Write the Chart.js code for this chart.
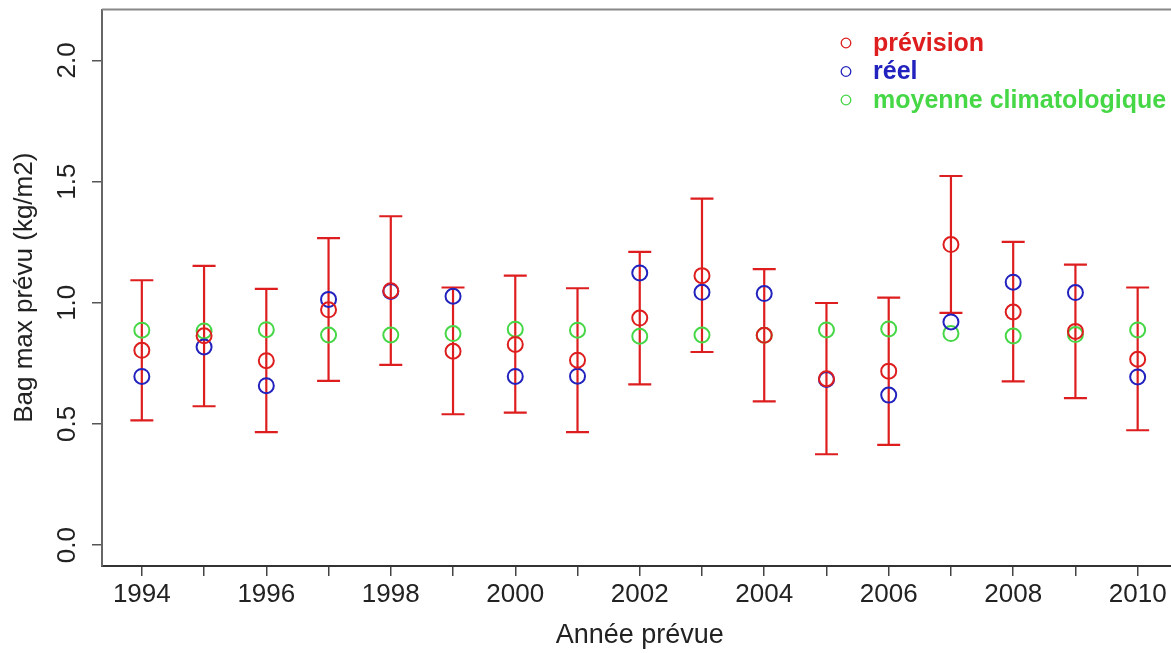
<!DOCTYPE html>
<html>
<head>
<meta charset="utf-8">
<script src="https://cdn.jsdelivr.net/npm/chart.js@4/dist/chart.umd.min.js"></script>
<style>
  body { margin: 0; background: #fff; }
  #wrap { width: 1171px; height: 653px; overflow: hidden; }
</style>
</head>
<body>
<div id="wrap"><canvas id="chart" width="1190" height="653"></canvas></div>
<script>
// data
const years = [1994, 1995, 1996, 1997, 1998, 1999, 2000, 2001, 2002, 2003, 2004, 2005, 2006, 2007, 2008, 2009, 2010];
const prevision = [0.804, 0.864, 0.761, 0.971, 1.050, 0.800, 0.828, 0.763, 0.937, 1.112, 0.866, 0.687, 0.718, 1.240, 0.962, 0.882, 0.767];
const reel = [0.696, 0.818, 0.658, 1.014, 1.047, 1.027, 0.696, 0.697, 1.123, 1.043, 1.038, 0.683, 0.619, 0.921, 1.085, 1.042, 0.694];
const moyenne = [0.887, 0.884, 0.889, 0.867, 0.867, 0.873, 0.891, 0.887, 0.862, 0.867, 0.866, 0.888, 0.892, 0.873, 0.863, 0.869, 0.888];
const lower = [0.515, 0.573, 0.466, 0.678, 0.744, 0.540, 0.547, 0.466, 0.663, 0.797, 0.593, 0.375, 0.414, 0.958, 0.676, 0.607, 0.474];
const upper = [1.093, 1.152, 1.057, 1.267, 1.357, 1.063, 1.112, 1.060, 1.210, 1.430, 1.139, 0.999, 1.021, 1.523, 1.251, 1.157, 1.063];
const yTicks = [0, 0.5, 1.0, 1.5, 2.0];
const xLabels = ['1994', '1996', '1998', '2000', '2002', '2004', '2006', '2008', '2010'];

const RED = 'rgb(222,30,30)';
const BLUE = 'rgb(34,34,190)';
const GREEN = 'rgb(70,215,70)';
const FONT = "'Liberation Sans', Arial, sans-serif";

function pts(vals) {
    return years.map((y, i) => ({ x: y, y: vals[i] }));
}

const errorBars = {
    id: 'errorBars',
    beforeDatasetsDraw(chart) {
        const ctx = chart.ctx;
        const xs = chart.scales.x, ys = chart.scales.y;
        ctx.save();
        ctx.strokeStyle = RED;
        ctx.lineWidth = 2.2;
        years.forEach((yr, i) => {
            const x = xs.getPixelForValue(yr);
            const y0 = ys.getPixelForValue(lower[i]);
            const y1 = ys.getPixelForValue(upper[i]);
            ctx.beginPath();
            ctx.moveTo(x, y0); ctx.lineTo(x, y1);
            ctx.moveTo(x - 11.5, y0); ctx.lineTo(x + 11.5, y0);
            ctx.moveTo(x - 11.5, y1); ctx.lineTo(x + 11.5, y1);
            ctx.stroke();
        });
        ctx.restore();
    }
};

const frame = {
    id: 'frame',
    afterDraw(chart) {
        const ctx = chart.ctx;
        const a = chart.chartArea;
        const ys = chart.scales.y;
        ctx.save();
        // top border of the box
        ctx.strokeStyle = '#888';
        ctx.lineWidth = 2;
        ctx.beginPath();
        ctx.moveTo(a.left, a.top); ctx.lineTo(a.right, a.top);
        ctx.stroke();
        // rotated y tick labels
        ctx.fillStyle = '#222';
        ctx.font = '26px ' + FONT;
        ctx.textAlign = 'center';
        ctx.textBaseline = 'middle';
        yTicks.forEach(v => {
            const y = ys.getPixelForValue(v);
            ctx.save();
            ctx.translate(68, y);
            ctx.rotate(-Math.PI / 2);
            ctx.fillText(v.toFixed(1), 0, 0);
            ctx.restore();
        });
        // legend
        ctx.textAlign = 'left';
        ctx.font = 'bold 25px ' + FONT;
        chart.data.datasets.forEach((ds, i) => {
            const y = 43 + 28.5 * i;
            ctx.strokeStyle = ds.borderColor;
            ctx.lineWidth = 1.3;
            ctx.beginPath();
            ctx.arc(846, y, 4.8, 0, Math.PI * 2);
            ctx.stroke();
            ctx.fillStyle = ds.borderColor;
            ctx.fillText(ds.label, 873, y + 1);
        });
        ctx.restore();
    }
};

function series(label, vals, color) {
    return {
        label: label,
        data: pts(vals),
        borderColor: color,
        backgroundColor: 'rgba(0,0,0,0)',
        pointRadius: 7.5,
        pointHoverRadius: 7.5,
        pointBorderWidth: 2,
        showLine: false
    };
}

new Chart(document.getElementById('chart').getContext('2d'), {
    type: 'scatter',
    data: {
        datasets: [
            series('prévision', prevision, RED),
            series('réel', reel, BLUE),
            series('moyenne climatologique', moyenne, GREEN)
        ]
    },
    options: {
        responsive: false,
        animation: false,
        layout: { padding: { top: 9, right: 12.5, left: 0, bottom: 0 } },
        plugins: {
            legend: { display: false },
            tooltip: { enabled: false }
        },
        scales: {
            x: {
                type: 'linear',
                min: 1993.36,
                max: 2010.64,
                afterBuildTicks: s => { s.ticks = years.map(v => ({ value: v })); },
                afterFit: s => { s.height = 87; },
                border: { color: '#333', width: 2 },
                grid: { drawOnChartArea: false, drawTicks: true, tickLength: 10, color: '#444', lineWidth: 1.5 },
                ticks: {
                    padding: 3,
                    maxRotation: 0,
                    autoSkip: false,
                    color: '#222',
                    font: { family: FONT, size: 26 },
                    callback: v => xLabels.includes(String(v)) ? String(v) : ''
                },
                title: {
                    display: true,
                    text: 'Année prévue',
                    color: '#222',
                    font: { family: FONT, size: 27 },
                    padding: { top: 0, bottom: 1 }
                }
            },
            y: {
                min: -0.086,
                max: 2.21,
                afterBuildTicks: s => { s.ticks = yTicks.map(v => ({ value: v })); },
                afterFit: s => { s.width = 102; },
                border: { color: '#666', width: 2 },
                grid: { drawOnChartArea: false, drawTicks: true, tickLength: 10, color: '#555', lineWidth: 1.5 },
                ticks: { display: false },
                title: {
                    display: true,
                    text: 'Bag max prévu (kg/m2)',
                    color: '#222',
                    font: { family: FONT, size: 26 },
                    padding: { top: 9, bottom: 0 }
                }
            }
        }
    },
    plugins: [errorBars, frame]
});
</script>
</body>
</html>
